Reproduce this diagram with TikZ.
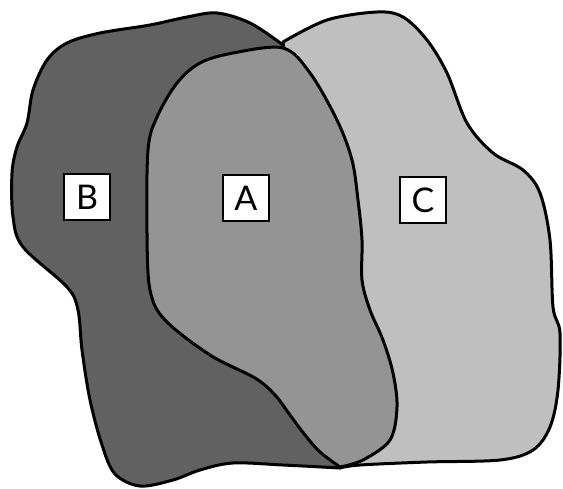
\documentclass[tikz,border=0pt]{standalone}
\usepackage{fontspec}
\setsansfont{Lato}
\begin{document}
\begin{tikzpicture}[x=1pt, y=-1pt,
    blob/.style={draw=black, line width=3pt, line join=round},
    setlabel/.style={draw=black, fill=white, line width=2.5pt, minimum size=46pt,
        inner sep=0pt, font=\sffamily\fontsize{34}{34}\selectfont}]
    % --- 画布大小 ---
    \useasboundingbox (0,0) rectangle (563,488);

    % --- 集合 B (最深, 在最底层) ---
    % 右侧边缘被 A 和 C 遮住, 用直线闭合
    \filldraw[blob, fill=black!62] plot[smooth, tension=0.55] coordinates {
        (300,60) (283,45) (250,23) (217,13) (187,17) (150,25) (100,33) (67,43)
        (47,60) (33,90) (27,123) (17,147) (12,173) (13,217) (23,247) (67,287)
        (78,310) (82,350) (90,400) (102,445) (115,474) (140,486) (173,480)
        (200,470) (233,463) (283,465) (340,468)} -- (350,300) -- cycle;

    % --- 集合 C (最浅) ---
    \filldraw[blob, fill=black!25] plot[smooth, tension=0.55] coordinates {
        (283,42) (327,20) (377,12) (403,17) (427,40) (447,73) (467,123)
        (493,153) (523,170) (540,193) (550,240) (553,307) (560,333) (558,390)
        (550,427) (533,450) (500,460) (427,462) (360,465) (340,468)}
        -- (320,300) -- cycle;

    % --- 集合 A (中间灰度, 在最上层) ---
    % 从底部尖角出发绕一圈回到尖角
    \filldraw[blob, fill=black!42] plot[smooth, tension=0.55] coordinates {
        (340,467) (363,460) (390,440) (397,407) (393,373) (383,340) (370,310)
        (362,280) (362,240) (358,200) (352,160) (337,120) (310,73) (283,48)
        (233,53) (200,63) (177,83) (157,117) (148,150) (147,233) (150,290)
        (165,320) (210,355) (255,378) (275,395) (290,415) (305,435) (320,452)
        (340,467)} -- cycle;

    % --- 标签 ---
    \node[setlabel] (labB) at (87,197) {B};
    \node[setlabel] (labA) at (246,198) {A};
    \node[setlabel] (labC) at (423,200) {C};
\end{tikzpicture}
\end{document}
